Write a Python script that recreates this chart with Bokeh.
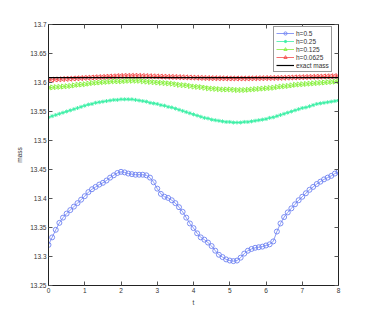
import math
from bokeh.plotting import figure
from bokeh.models import LinearAxis, Range1d, Legend, LegendItem
from bokeh.embed import file_html
from bokeh.resources import INLINE

t = [i / 10 for i in range(81)]

mass_h05 = [13.320,13.333,13.346,13.358,13.367,13.374,13.380,13.386,13.392,13.398,
            13.404,13.411,13.416,13.420,13.424,13.427,13.431,13.436,13.440,13.444,
            13.446,13.445,13.443,13.442,13.441,13.441,13.441,13.440,13.436,13.428,
            13.417,13.408,13.403,13.401,13.397,13.392,13.385,13.377,13.367,13.357,
            13.349,13.340,13.333,13.329,13.324,13.318,13.310,13.303,13.299,13.295,
            13.293,13.292,13.293,13.298,13.305,13.310,13.313,13.315,13.316,13.317,
            13.319,13.321,13.326,13.343,13.357,13.368,13.376,13.383,13.390,13.397,
            13.403,13.409,13.415,13.420,13.425,13.429,13.433,13.436,13.439,13.443,
            13.446]

mass_h025 = [13.540,13.542,13.544,13.546,13.548,13.550,13.552,13.554,13.556,13.558,
             13.560,13.562,13.563,13.565,13.566,13.567,13.568,13.569,13.570,13.570,
             13.571,13.571,13.571,13.571,13.570,13.569,13.568,13.567,13.565,13.564,
             13.563,13.561,13.560,13.558,13.557,13.555,13.553,13.551,13.549,13.547,
             13.545,13.543,13.541,13.539,13.538,13.536,13.535,13.534,13.533,13.532,
             13.532,13.531,13.531,13.531,13.532,13.532,13.533,13.534,13.535,13.536,
             13.537,13.539,13.540,13.542,13.544,13.546,13.548,13.550,13.552,13.554,
             13.556,13.557,13.559,13.561,13.563,13.564,13.565,13.566,13.567,13.568,
             13.569]

mass_h0125 = [13.591,13.5915,13.592,13.5925,13.593,13.5935,13.594,13.595,13.596,13.5965,
              13.597,13.598,13.599,13.5995,13.600,13.6005,13.601,13.6015,13.602,13.602,
              13.602,13.6025,13.603,13.603,13.603,13.603,13.602,13.6015,13.601,13.6005,
              13.600,13.5995,13.599,13.5985,13.598,13.597,13.596,13.5955,13.595,13.594,
              13.593,13.5925,13.592,13.591,13.590,13.5895,13.589,13.5885,13.588,13.588,
              13.588,13.5875,13.587,13.587,13.587,13.5875,13.588,13.5885,13.589,13.5895,
              13.590,13.5905,13.591,13.592,13.593,13.5935,13.594,13.595,13.596,13.5965,
              13.597,13.5975,13.598,13.5985,13.599,13.5995,13.600,13.6005,13.601,13.6015,
              13.602]

mass_h00625 = [13.6045,13.605,13.6053,13.6056,13.606,13.6063,13.6066,13.607,13.6073,13.6076,
               13.608,13.6083,13.6086,13.609,13.6093,13.6096,13.610,13.6103,13.6106,13.611,
               13.6112,13.6114,13.6115,13.6115,13.6115,13.6114,13.6112,13.611,13.6108,13.6106,
               13.6104,13.6102,13.610,13.6098,13.6096,13.6094,13.6092,13.609,13.6088,13.6086,
               13.6084,13.6082,13.608,13.6078,13.6076,13.6075,13.6074,13.6073,13.6072,13.6071,
               13.607,13.607,13.607,13.607,13.607,13.6071,13.6072,13.6073,13.6074,13.6075,
               13.6076,13.6077,13.6078,13.6079,13.608,13.6082,13.6084,13.6086,13.6088,13.609,
               13.6092,13.6094,13.6096,13.6098,13.610,13.6102,13.6104,13.6106,13.6108,13.611,
               13.611]

exact_mass = 13.6085

x_ticks = [0, 1, 2, 3, 4, 5, 6, 7, 8]
y_ticks = [13.25, 13.3, 13.35, 13.4, 13.45, 13.5, 13.55, 13.6, 13.65, 13.7]
y_tick_labels = ["13.25", "13.3", "13.35", "13.4", "13.45", "13.5", "13.55", "13.6", "13.65", "13.7"]
labels = ["h=0.5", "h=0.25", "h=0.125", "h=0.0625", "exact mass"]
colors = ["#6e82f2", "#3cefa6", "#86ef3a", "#f44848", "#000000"]

FONT = "Liberation Sans"

p = figure(width=366, height=313, output_backend="svg", toolbar_location=None,
           x_range=Range1d(0, 8), y_range=Range1d(13.25, 13.7),
           min_border_left=48, min_border_right=28, min_border_top=24, min_border_bottom=28)
p.grid.visible = False
p.outline_line_color = "#222222"
p.outline_line_width = 1
p.background_fill_color = "white"

def style_axis(ax):
    ax.major_tick_in = 4
    ax.major_tick_out = 0
    ax.minor_tick_in = 0
    ax.minor_tick_out = 0
    ax.axis_line_color = "#222222"
    ax.major_tick_line_color = "#555555"
    ax.major_label_text_font = FONT
    ax.major_label_text_font_size = "6.5px"
    ax.major_label_text_color = "#333333"
    ax.axis_label_text_font = FONT
    ax.axis_label_text_font_size = "6.5px"
    ax.axis_label_text_font_style = "normal"
    ax.axis_label_text_color = "#333333"
    ax.major_label_standoff = 2
    ax.axis_label_standoff = 3

xax = p.xaxis[0]
yax = p.yaxis[0]
xax.ticker = x_ticks
yax.ticker = y_ticks
yax.major_label_overrides = {v: s for v, s in zip(y_ticks, y_tick_labels)}
xax.axis_label = "t"
yax.axis_label = "mass"
style_axis(xax)
style_axis(yax)
yax.axis_label_standoff = 4

top_ax = LinearAxis(ticker=x_ticks)
right_ax = LinearAxis(ticker=y_ticks)
style_axis(top_ax)
style_axis(right_ax)
top_ax.major_label_overrides = {v: "" for v in x_ticks}
right_ax.major_label_overrides = {v: "" for v in y_ticks}
p.add_layout(top_ax, "above")
p.add_layout(right_ax, "right")

items = []
r1l = p.line(t, mass_h05, line_color=colors[0], line_width=0.8)
r1m = p.scatter(t, mass_h05, marker="circle", size=5, fill_color=None, line_color=colors[0], line_width=0.9)
items.append(LegendItem(label=labels[0], renderers=[r1l, r1m]))

r2l = p.line(t, mass_h025, line_color=colors[1], line_width=0.8)
r2m = p.scatter(t, mass_h025, marker="asterisk", size=4, line_color=colors[1], line_width=0.9)
items.append(LegendItem(label=labels[1], renderers=[r2l, r2m]))

r3l = p.line(t, mass_h0125, line_color=colors[2], line_width=0.8)
r3m = p.scatter(t, mass_h0125, marker="triangle", angle=-math.pi / 2, size=5, fill_color=None,
                line_color=colors[2], line_width=0.9)
items.append(LegendItem(label=labels[2], renderers=[r3l, r3m]))

r4l = p.line(t, mass_h00625, line_color=colors[3], line_width=0.8)
r4m = p.scatter(t, mass_h00625, marker="triangle", angle=math.pi / 2, size=5, fill_color=None,
                line_color=colors[3], line_width=0.9)
items.append(LegendItem(label=labels[3], renderers=[r4l, r4m]))

r5 = p.line(t, [exact_mass] * len(t), line_color=colors[4], line_width=1.2)
items.append(LegendItem(label=labels[4], renderers=[r5]))

legend = Legend(items=items, location=(225, 213))
legend.label_text_font = FONT
legend.label_text_font_size = "6.5px"
legend.label_text_color = "#333333"
legend.glyph_height = 8
legend.glyph_width = 18
legend.label_height = 8
legend.label_width = 20
legend.spacing = 0
legend.padding = 2
legend.margin = 0
legend.label_standoff = 2
legend.border_line_color = "#333333"
legend.border_line_width = 1
legend.background_fill_alpha = 1
p.add_layout(legend, "center")

open("out.html", "w").write(file_html(p, INLINE))
